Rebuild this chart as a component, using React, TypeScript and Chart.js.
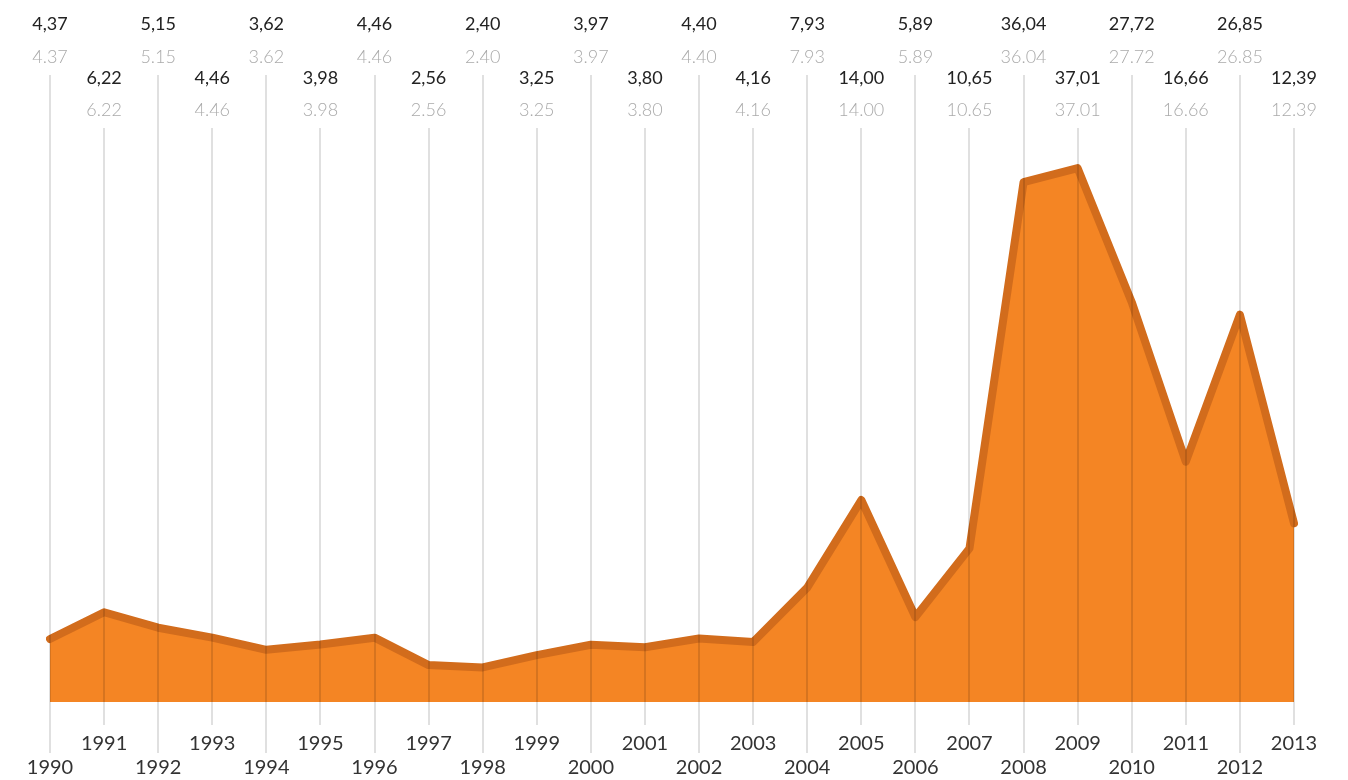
import React, { useEffect, useRef } from "react";
import { Chart, registerables } from "chart.js";

Chart.register(...registerables);

const years = ["1990","1991","1992","1993","1994","1995","1996","1997","1998","1999","2000","2001","2002","2003","2004","2005","2006","2007","2008","2009","2010","2011","2012","2013"];
const values = [4.37, 6.22, 5.15, 4.46, 3.62, 3.98, 4.46, 2.56, 2.40, 3.25, 3.97, 3.80, 4.40, 4.16, 7.93, 14.00, 5.89, 10.65, 36.04, 37.01, 27.72, 16.66, 26.85, 12.39];

const FONT = "Lato, 'Open Sans', sans-serif";

const overlayPlugin = {
  id: "overlay",
  afterDatasetsDraw(chart: any) {
    const ctx = chart.ctx;
    const xs = chart.scales.x;
    ctx.save();
    ctx.strokeStyle = "rgba(0,0,0,0.12)";
    ctx.lineWidth = 2;
    years.forEach((_, i) => {
      const x = Math.round(xs.getPixelForValue(i));
      const even = i % 2 === 0;
      ctx.beginPath();
      ctx.moveTo(x, even ? 75 : 128);
      ctx.lineTo(x, even ? 753 : 725);
      ctx.stroke();
    });
    ctx.textAlign = "center";
    ctx.textBaseline = "middle";
    years.forEach((y, i) => {
      const x = xs.getPixelForValue(i);
      const even = i % 2 === 0;
      const v = values[i].toFixed(2);
      ctx.font = `18px ${FONT}`;
      ctx.fillStyle = "#222";
      ctx.fillText(v.replace(".", ","), x, even ? 24 : 78);
      ctx.font = `300 18px ${FONT}`;
      ctx.fillStyle = "#aaa";
      ctx.fillText(v, x, even ? 57 : 110);
      ctx.font = `20px ${FONT}`;
      ctx.fillStyle = "#333";
      ctx.fillText(y, x, even ? 768 : 744);
    });
    ctx.restore();
  },
};

export default function App() {
  const ref = useRef<HTMLCanvasElement>(null);
  useEffect(() => {
    if (!ref.current) return;
    const chart = new Chart(ref.current, {
      type: "line",
      data: {
        labels: years,
        datasets: [
          {
            data: values,
            fill: "origin",
            backgroundColor: "#F48524",
            borderColor: "#D26C1C",
            borderWidth: 8,
            borderCapStyle: "round",
            borderJoinStyle: "round",
            pointRadius: 0,
            tension: 0,
          },
        ],
      },
      options: {
        animation: false,
        responsive: false,
        events: [],
        layout: { padding: { top: 125, bottom: 78, left: 50, right: 54 } },
        plugins: { legend: { display: false }, tooltip: { enabled: false } },
        scales: {
          x: { display: false, offset: false },
          y: { display: false, min: 0, max: 40 },
        },
      },
      plugins: [overlayPlugin],
    });
    return () => chart.destroy();
  }, []);
  return (
    <div style={{ position: "fixed", left: 0, top: 0, width: 1348, height: 780, background: "#fff" }}>
      <canvas ref={ref} width={1348} height={780} style={{ display: "block" }} />
    </div>
  );
}
